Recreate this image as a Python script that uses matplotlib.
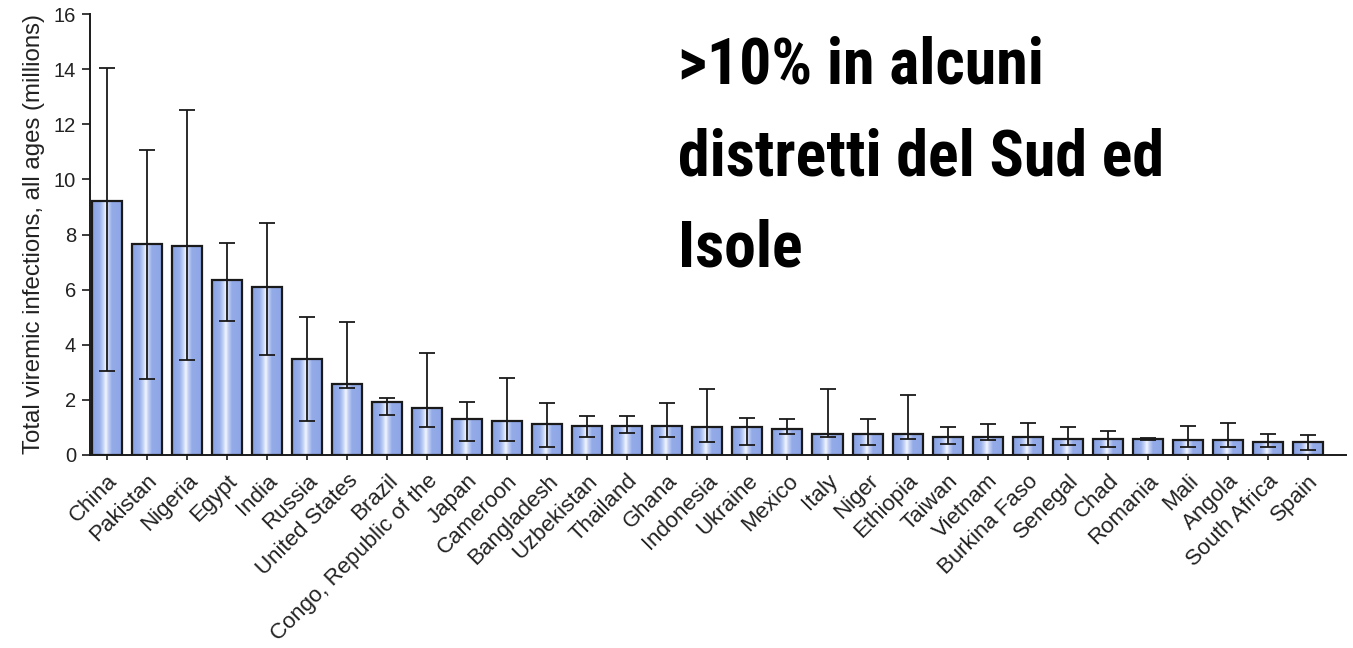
import numpy as np
import matplotlib
matplotlib.use("Agg")
import matplotlib.pyplot as plt

plt.rcParams['font.family'] = ['Liberation Sans', 'DejaVu Sans']

countries = ["China", "Pakistan", "Nigeria", "Egypt", "India", "Russia",
             "United States", "Brazil", "Congo, Republic of the", "Japan",
             "Cameroon", "Bangladesh", "Uzbekistan", "Thailand", "Ghana",
             "Indonesia", "Ukraine", "Mexico", "Italy", "Niger", "Ethiopia",
             "Taiwan", "Vietnam", "Burkina Faso", "Senegal", "Chad", "Romania",
             "Mali", "Angola", "South Africa", "Spain"]
infections = [9.22, 7.64, 7.58, 6.35, 6.11, 3.47, 2.57, 1.94, 1.70, 1.31,
              1.23, 1.12, 1.05, 1.05, 1.05, 1.00, 1.00, 0.94, 0.76, 0.76,
              0.77, 0.65, 0.65, 0.65, 0.59, 0.59, 0.59, 0.53, 0.53, 0.47, 0.47]
lower = [3.06, 2.76, 3.46, 4.87, 3.64, 1.23, 2.42, 1.46, 1.00, 0.52,
         0.52, 0.30, 0.64, 0.81, 0.64, 0.46, 0.35, 0.75, 0.64, 0.35,
         0.59, 0.41, 0.53, 0.36, 0.36, 0.30, 0.56, 0.30, 0.30, 0.30, 0.18]
upper = [14.05, 11.05, 12.53, 7.69, 8.41, 4.99, 4.81, 2.07, 3.71, 1.91,
         2.81, 1.87, 1.40, 1.40, 1.87, 2.40, 1.35, 1.29, 2.40, 1.29,
         2.17, 1.00, 1.12, 1.17, 1.00, 0.88, 0.62, 1.06, 1.17, 0.77, 0.71]
yticks = [0, 2, 4, 6, 8, 10, 12, 14, 16]

headline = [">10% in alcuni", "distretti del Sud ed", "Isole"]

fig = plt.figure(figsize=(13.53, 6.48), dpi=100)
ax = fig.add_axes([90 / 1353, 1 - 455 / 648, (1346 - 90) / 1353, (455 - 14) / 648])

x = np.arange(len(countries))
vals = np.array(infections)
width = 0.75

# horizontal shading profile for the bar fill
stops = np.array([0.0, 0.25, 0.38, 0.45, 0.52, 0.65, 1.0])
cols = np.array([
    [0.53, 0.63, 0.89],
    [0.60, 0.69, 0.92],
    [0.80, 0.85, 0.97],
    [0.96, 0.97, 1.00],
    [0.78, 0.83, 0.96],
    [0.58, 0.67, 0.91],
    [0.55, 0.65, 0.90],
])
t = np.linspace(0, 1, 64)
grad = np.stack([np.interp(t, stops, cols[:, c]) for c in range(3)], axis=-1)[None, :, :]

for xi, v in zip(x, vals):
    ax.imshow(grad, extent=[xi - width / 2, xi + width / 2, 0, v],
              aspect='auto', origin='lower', zorder=1, interpolation='bilinear')

ax.bar(x, vals, width=width, fill=False, edgecolor='#1a1a1a', linewidth=1.6, zorder=2)

yerr = np.array([vals - np.array(lower), np.array(upper) - vals])
ax.errorbar(x, vals, yerr=yerr, fmt='none', ecolor='#1a1a1a', elinewidth=1.3,
            capsize=5.5, capthick=1.3, zorder=3)

ax.set_xlim(-0.42, 30.95)
ax.set_ylim(0, 16)
ax.set_yticks(yticks)
ax.set_yticklabels([str(v) for v in yticks], fontsize=14.5, color='#222222')
ax.set_xticks(x)
ax.set_xticklabels(countries, rotation=45, ha='right', va='top',
                   rotation_mode='anchor', fontsize=16, color='#222222')
ax.tick_params(axis='both', direction='out', width=1.2, color='#1a1a1a')
ax.tick_params(axis='x', length=3.6, pad=7.5)
ax.tick_params(axis='y', length=6, pad=4)
for side in ('top', 'right'):
    ax.spines[side].set_visible(False)
for side in ('left', 'bottom'):
    ax.spines[side].set_linewidth(1.4)
    ax.spines[side].set_color('#1a1a1a')

ax.set_ylabel("Total viremic infections, all ages (millions)", fontsize=17.3,
              color='#222222', labelpad=6)

for line, base in zip(headline, [83, 175, 267]):
    fig.text(678 / 1353, 1 - base / 648, line, fontsize=46, fontweight='bold',
             family=['Roboto Condensed', 'Liberation Sans'],
             ha='left', va='baseline', color='black')

fig.savefig("out.png", dpi=100)
